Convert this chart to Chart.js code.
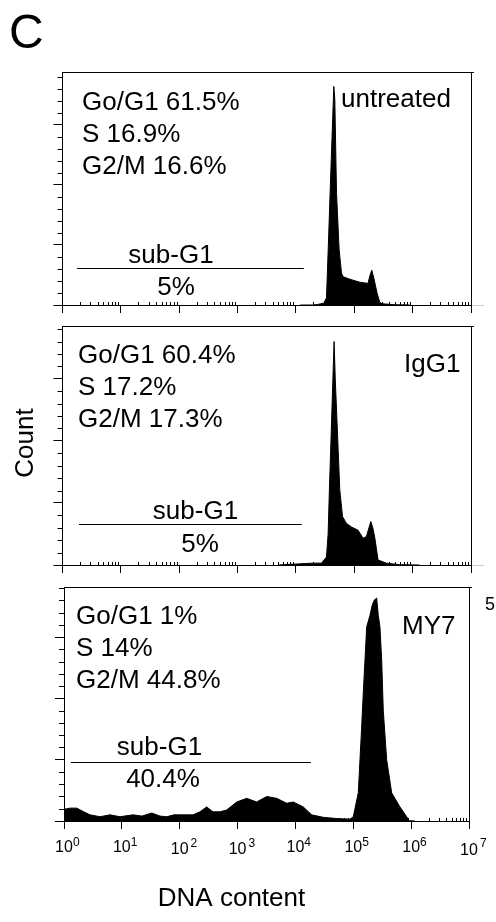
<!DOCTYPE html>
<html>
<head>
<meta charset="utf-8">
<script src="https://cdn.jsdelivr.net/npm/chart.js@4.4.0/dist/chart.umd.min.js"></script>
<style>
  body { margin: 0; background: #fff; }
  #wrap { position: relative; width: 496px; height: 922px; }
  #wrap canvas { position: absolute; left: 0; top: 0; }
</style>
</head>
<body>
<div id="wrap">
  <canvas id="untreated" width="496" height="922"></canvas>
  <canvas id="igg1" width="496" height="922"></canvas>
  <canvas id="my7" width="496" height="922"></canvas>
</div>
<script>
// histogram data (DNA content on log scale, count)
const untreatedDNA = [11700, 19500, 23700, 30000, 33400, 35900, 38800, 42000, 44600, 46400, 49600, 55000, 60400, 64300, 83700, 124000, 172000, 184000, 199500, 216000, 245500, 273500, 307600, 493000, 891000];
const untreatedCount = [0, 0, 1, 3, 12, 98, 195, 292, 364, 342, 187, 92, 53, 47, 43, 38, 36, 48, 58, 45, 20, 4, 2, 0.5, 0];

const iggDNA = [4900, 19500, 27400, 33400, 35600, 37300, 40400, 42800, 45100, 47300, 50700, 56400, 62900, 73500, 90600, 116000, 141500, 161700, 191700, 207600, 224500, 255600, 355700, 601000, 1300000];
const iggCount = [0, 3, 3, 13, 50, 116, 218, 294, 360, 298, 229, 121, 78, 67, 61, 56, 43, 46, 70, 60, 44, 8, 3, 0.5, 0];

const my7DNA = [1, 1.27, 1.66, 2.2, 2.81, 4.19, 6.24, 9.29, 15.6, 22.3, 32.8, 45.6, 59.6, 79.6, 101, 170, 224, 292, 376, 497, 649, 966, 1439, 2140, 3190, 4745, 7060, 9190, 13670, 19100, 30300, 51600, 87700, 100000, 122000, 130500, 139700, 148800, 159200, 170500, 194500, 210500, 228000, 253600, 270400, 289000, 309600, 329800, 377500, 461000, 641000, 837000, 929000, 1160000];
const my7Count = [19, 21, 21, 15, 10, 7, 10, 7, 10, 8, 13, 8, 7, 10, 10, 10, 15, 23, 15, 15, 18, 31, 37, 31, 40, 37, 29, 31, 23, 10, 6, 4, 3, 7, 46, 100, 154, 209, 263, 317, 336, 351, 360, 364, 336, 317, 263, 181, 100, 46, 23, 7, 0.5, 0];

// text of each panel
const sampleNames = ['untreated', 'IgG1', 'MY7'];
const untreatedPhases = ['Go/G1 61.5%', 'S 16.9%', 'G2/M 16.6%'];
const iggPhases = ['Go/G1 60.4%', 'S 17.2%', 'G2/M 17.3%'];
const my7Phases = ['Go/G1 1%', 'S 14%', 'G2/M 44.8%'];
const subG1Values = ['5%', '5%', '40.4%'];

// sub-G1 gate (DNA range) and the level it is drawn at
const gateRanges = [[1.77, 13650], [1.92, 12600], [1.32, 18600]];
const gateLevels = [62, 66, 96];

// axes
const xDecades = [1, 10, 100, 1000, 10000, 100000, 1000000, 10000000];
const xTickExponents = ['0', '1', '2', '3', '4', '5', '6', '7'];
const yMajor = [0, 100, 200, 300];
const yMax = [388, 385, 382];

const FONT = '"Liberation Sans", Arial, Helvetica, sans-serif';

// frame, minor ticks, labels and gate
const panelDecor = {
  id: 'panelDecor',
  afterDraw(chart, args, o) {
    const ctx = chart.ctx;
    const a = chart.chartArea;
    const xs = chart.scales.x;
    const ys = chart.scales.y;
    ctx.save();
    ctx.strokeStyle = '#000';
    ctx.fillStyle = '#000';
    ctx.lineWidth = 1;

    // top and right border
    ctx.beginPath();
    ctx.moveTo(a.left, Math.round(a.top) + 0.5);
    ctx.lineTo(a.right + 3, Math.round(a.top) + 0.5);
    ctx.moveTo(Math.round(a.right) + 0.5, a.top);
    ctx.lineTo(Math.round(a.right) + 0.5, a.bottom);
    ctx.stroke();

    // minor y ticks
    ctx.beginPath();
    for (let v = 20; v < ys.max; v += 20) {
      if (v % 100 === 0) continue;
      const py = Math.round(ys.getPixelForValue(v)) + 0.5;
      ctx.moveTo(a.left - 5, py);
      ctx.lineTo(a.left, py);
    }
    // minor x ticks, pointing inward
    for (let k = 0; k < 7; k++) {
      for (let m = 2; m <= 9; m++) {
        const px = Math.round(xs.getPixelForValue(m * Math.pow(10, k))) + 0.5;
        ctx.moveTo(px, a.bottom);
        ctx.lineTo(px, a.bottom - 3);
      }
    }
    ctx.stroke();

    // faint baseline run-out on the right
    if (o.runOut) {
      ctx.strokeStyle = '#ccc';
      ctx.beginPath();
      ctx.moveTo(a.right + 1, Math.round(a.bottom) + 0.5);
      ctx.lineTo(a.right + 13, Math.round(a.bottom) + 0.5);
      ctx.stroke();
      ctx.strokeStyle = '#000';
    }

    // sub-G1 gate
    const gy = Math.round(ys.getPixelForValue(o.gateLevel)) + 0.5;
    ctx.beginPath();
    ctx.moveTo(xs.getPixelForValue(o.gate[0]), gy);
    ctx.lineTo(xs.getPixelForValue(o.gate[1]), gy);
    ctx.stroke();

    ctx.font = '26px ' + FONT;
    ctx.textBaseline = 'alphabetic';
    ctx.textAlign = 'left';
    o.phases.forEach((t, i) => ctx.fillText(t, o.phaseX, o.phaseY + i * 32));
    ctx.fillText(o.name, o.nameX, o.nameY);
    ctx.textAlign = 'center';
    ctx.fillText('sub-G1', o.subX, o.subY);
    ctx.fillText(o.pct, o.pctX, o.pctY);

    if (o.extra) o.extra(ctx, chart);
    ctx.restore();
  }
};

function makePanel(id, dna, counts, idx, padding, decor) {
  return new Chart(document.getElementById(id), {
    type: 'line',
    data: {
      datasets: [{
        data: dna.map((v, i) => ({ x: v, y: counts[i] })),
        borderColor: '#000',
        backgroundColor: '#000',
        borderWidth: 1,
        fill: 'origin',
        pointRadius: 0,
        tension: 0,
      }],
    },
    options: {
      responsive: false,
      animation: false,
      layout: { padding: padding },
      plugins: {
        legend: { display: false },
        tooltip: { enabled: false },
        panelDecor: Object.assign({
          phases: decor.phases,
          name: sampleNames[idx],
          pct: subG1Values[idx],
          gate: gateRanges[idx],
          gateLevel: gateLevels[idx],
        }, decor),
      },
      scales: {
        x: {
          type: 'logarithmic',
          min: 1,
          max: 1e7,
          afterBuildTicks: s => { s.ticks = xDecades.map(v => ({ value: v })); },
          ticks: { display: false },
          grid: { drawOnChartArea: false, tickLength: 8, color: '#000' },
          border: { color: '#000' },
        },
        y: {
          min: 0,
          max: yMax[idx],
          afterBuildTicks: s => { s.ticks = yMajor.map(v => ({ value: v })); },
          ticks: { display: false },
          grid: { drawOnChartArea: false, tickLength: 9, color: '#000' },
          border: { color: '#000' },
        },
      },
    },
    plugins: [panelDecor],
  });
}

// UNTREATED
makePanel('untreated', untreatedDNA, untreatedCount, 0,
  { left: 53.5, right: 25, top: 72, bottom: 609 },
  {
    phases: untreatedPhases, phaseX: 82, phaseY: 110, nameX: 341, nameY: 107,
    subX: 171, subY: 263, pctX: 176, pctY: 295, runOut: true,
    extra(ctx) {
      ctx.textAlign = 'left';
      ctx.font = '48px ' + FONT;
      ctx.fillText('C', 9, 48);
    },
  });

// IgG1
makePanel('igg1', iggDNA, iggCount, 1,
  { left: 53.5, right: 25, top: 326, bottom: 349 },
  {
    phases: iggPhases, phaseX: 78, phaseY: 363, nameX: 404, nameY: 372,
    subX: 195.5, subY: 519, pctX: 200, pctY: 552, runOut: true,
    extra(ctx) {
      ctx.save();
      ctx.translate(33, 443);
      ctx.rotate(-Math.PI / 2);
      ctx.textAlign = 'center';
      ctx.fillText('Count', 0, 0);
      ctx.restore();
    },
  });

// MY7
makePanel('my7', my7DNA, my7Count, 2,
  { left: 55, right: 27, top: 587, bottom: 93 },
  {
    phases: my7Phases, phaseX: 76, phaseY: 624, nameX: 402, nameY: 634,
    subX: 159.5, subY: 755, pctX: 163, pctY: 787,
    extra(ctx, chart) {
      const xs = chart.scales.x;
      const drop = [0, 0, 2, 2, 0, 0, 0, 3];
      xDecades.forEach((v, i) => {
        const px = xs.getPixelForValue(v);
        ctx.font = '16px ' + FONT;
        ctx.textAlign = 'center';
        ctx.fillText('10', px, 852 + drop[i]);
        const w = ctx.measureText('10').width;
        ctx.font = '12px ' + FONT;
        ctx.textAlign = 'left';
        ctx.fillText(xTickExponents[i], px + w / 2 + (drop[i] ? 2 : 0), 846 + (drop[i] ? 1 : 0));
      });
      ctx.font = '26px ' + FONT;
      ctx.textAlign = 'center';
      ctx.fillText('DNA content', 231.5, 906);
      ctx.textAlign = 'left';
      ctx.font = '18px ' + FONT;
      ctx.fillText('5', 485, 610);
    },
  });
</script>
</body>
</html>
